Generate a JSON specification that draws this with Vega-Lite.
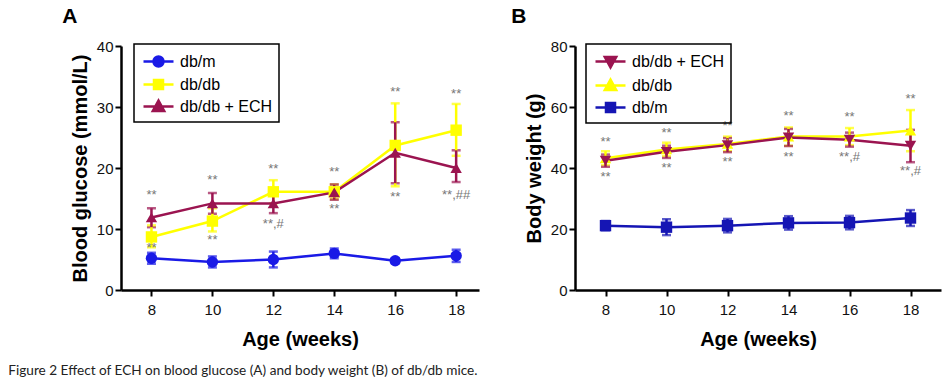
{
  "$schema": "https://vega.github.io/schema/vega-lite/v6.json",
  "background": "white",
  "padding": {"left": 8, "top": 6, "right": 9, "bottom": 4},
  "config": {
    "view": {"stroke": null},
    "axis": {"grid": false, "domainColor": "black", "domainWidth": 2.5, "tickColor": "black", "tickWidth": 2, "tickSize": 6, "labelFont": "Arial", "labelFontSize": 15, "labelColor": "#111", "labelPadding": 2, "titleFont": "Arial", "titleFontSize": 20, "titleFontWeight": "bold", "titleColor": "black"},
    "axisX": {"labelPadding": 6, "titlePadding": 12},
    "axisY": {"titlePadding": 6}
  },
  "title": {"text": "Figure 2 Effect of ECH on blood glucose (A) and body weight (B) of db/db mice.", "orient": "bottom", "anchor": "start", "frame": "bounds", "font": "Lato", "fontSize": 13.6, "fontWeight": "normal", "color": "#222", "dx": -54, "offset": 15},
  "datasets": {
    "glucose": [
      {"week": 8, "group": "db/m", "mean": 5.2, "lo": 4.3, "hi": 6.1},
      {"week": 10, "group": "db/m", "mean": 4.6, "lo": 3.7, "hi": 5.5},
      {"week": 12, "group": "db/m", "mean": 5.0, "lo": 3.7, "hi": 6.3},
      {"week": 14, "group": "db/m", "mean": 6.0, "lo": 5.2, "hi": 6.8},
      {"week": 16, "group": "db/m", "mean": 4.8, "lo": 4.4, "hi": 5.2},
      {"week": 18, "group": "db/m", "mean": 5.6, "lo": 4.6, "hi": 6.6},
      {"week": 8, "group": "db/db", "mean": 8.7, "lo": 7.0, "hi": 10.6},
      {"week": 10, "group": "db/db", "mean": 11.3, "lo": 9.6, "hi": 13.4},
      {"week": 12, "group": "db/db", "mean": 16.1, "lo": 14.2, "hi": 18.0},
      {"week": 14, "group": "db/db", "mean": 16.1, "lo": 14.9, "hi": 17.3},
      {"week": 16, "group": "db/db", "mean": 23.7, "lo": 17.0, "hi": 30.6},
      {"week": 18, "group": "db/db", "mean": 26.2, "lo": 22.0, "hi": 30.5},
      {"week": 8, "group": "db/db + ECH", "mean": 11.9, "lo": 10.3, "hi": 13.4},
      {"week": 10, "group": "db/db + ECH", "mean": 14.2, "lo": 12.5, "hi": 15.9},
      {"week": 12, "group": "db/db + ECH", "mean": 14.2, "lo": 12.6, "hi": 15.8},
      {"week": 14, "group": "db/db + ECH", "mean": 16.0, "lo": 14.8, "hi": 17.3},
      {"week": 16, "group": "db/db + ECH", "mean": 22.5, "lo": 17.5, "hi": 27.5},
      {"week": 18, "group": "db/db + ECH", "mean": 20.0, "lo": 17.7, "hi": 22.9}
    ],
    "glucoseNotes": [
      {"week": 8, "pos": 15.6, "label": "**"},
      {"week": 8, "pos": 6.9, "label": "**"},
      {"week": 10, "pos": 18.0, "label": "**"},
      {"week": 10, "pos": 8.2, "label": "**"},
      {"week": 12, "pos": 19.8, "label": "**"},
      {"week": 12, "pos": 10.8, "label": "**,#"},
      {"week": 14, "pos": 19.3, "label": "**"},
      {"week": 14, "pos": 13.3, "label": "**"},
      {"week": 16, "pos": 32.5, "label": "**"},
      {"week": 16, "pos": 15.2, "label": "**"},
      {"week": 18, "pos": 32.1, "label": "**"},
      {"week": 18, "pos": 15.6, "label": "**,##"}
    ],
    "weight": [
      {"week": 8, "group": "db/m", "mean": 21.1, "lo": 19.6, "hi": 22.6},
      {"week": 10, "group": "db/m", "mean": 20.6, "lo": 18.0, "hi": 23.2},
      {"week": 12, "group": "db/m", "mean": 21.1, "lo": 18.9, "hi": 23.3},
      {"week": 14, "group": "db/m", "mean": 22.0, "lo": 19.8, "hi": 24.2},
      {"week": 16, "group": "db/m", "mean": 22.1, "lo": 19.9, "hi": 24.3},
      {"week": 18, "group": "db/m", "mean": 23.6, "lo": 21.0, "hi": 26.2},
      {"week": 8, "group": "db/db", "mean": 43.2, "lo": 40.9, "hi": 45.5},
      {"week": 10, "group": "db/db", "mean": 46.1, "lo": 43.9, "hi": 48.3},
      {"week": 12, "group": "db/db", "mean": 47.9, "lo": 45.5, "hi": 50.3},
      {"week": 14, "group": "db/db", "mean": 50.3, "lo": 47.3, "hi": 53.3},
      {"week": 16, "group": "db/db", "mean": 50.3, "lo": 47.5, "hi": 53.1},
      {"week": 18, "group": "db/db", "mean": 52.3, "lo": 45.5, "hi": 59.0},
      {"week": 8, "group": "db/db + ECH", "mean": 42.4, "lo": 40.4, "hi": 44.4},
      {"week": 10, "group": "db/db + ECH", "mean": 45.3, "lo": 43.3, "hi": 47.3},
      {"week": 12, "group": "db/db + ECH", "mean": 47.5, "lo": 45.2, "hi": 49.8},
      {"week": 14, "group": "db/db + ECH", "mean": 50.0, "lo": 47.2, "hi": 52.8},
      {"week": 16, "group": "db/db + ECH", "mean": 49.3, "lo": 47.0, "hi": 51.6},
      {"week": 18, "group": "db/db + ECH", "mean": 47.3, "lo": 41.9, "hi": 52.5}
    ],
    "weightNotes": [
      {"week": 8, "pos": 48.6, "label": "**"},
      {"week": 8, "pos": 37.2, "label": "**"},
      {"week": 10, "pos": 51.6, "label": "**"},
      {"week": 10, "pos": 40.1, "label": "**"},
      {"week": 12, "pos": 53.8, "label": "**"},
      {"week": 12, "pos": 41.9, "label": "**"},
      {"week": 14, "pos": 57.1, "label": "**"},
      {"week": 14, "pos": 43.7, "label": "**"},
      {"week": 16, "pos": 56.8, "label": "**"},
      {"week": 16, "pos": 43.7, "label": "**,#"},
      {"week": 18, "pos": 62.5, "label": "**"},
      {"week": 18, "pos": 39.0, "label": "**,#"}
    ]
  },
  "spacing": 32,
  "resolve": {"scale": {"color": "independent", "x": "independent", "y": "independent"}, "legend": {"color": "independent"}},
  "hconcat": [
    {
      "title": {"text": "A", "anchor": "start", "frame": "bounds", "font": "Arial", "fontSize": 21, "fontWeight": "bold", "color": "black", "dx": -8, "offset": 12},
      "width": 358,
      "height": 244,
      "layer": [
        {
          "data": {"name": "glucose"},
          "mark": {"type": "point", "filled": true, "opacity": 0},
          "encoding": {
            "x": {"field": "week", "type": "quantitative", "title": "Age (weeks)", "scale": {"domain": [7, 18.75], "nice": false, "zero": false}, "axis": {"values": [8, 10, 12, 14, 16, 18]}},
            "y": {"field": "mean", "type": "quantitative", "title": "Blood glucose (mmol/L)", "scale": {"domain": [0, 40], "nice": false}, "axis": {"values": [0, 10, 20, 30, 40]}},
            "color": {"field": "group", "type": "nominal", "scale": {"domain": ["db/m", "db/db", "db/db + ECH"], "range": ["#1a1ae6", "#ffff00", "#9b1450"]}, "legend": {
              "title": null, "orient": "none", "legendX": 13, "legendY": -2, "padding": 6, "strokeColor": "black",
              "labelFont": "Arial", "labelFontSize": 16, "labelColor": "black", "labelOffset": 10, "rowPadding": 1, "symbolSize": 400, "symbolOffset": 7,
              "encode": {
                "legend": {"update": {"strokeWidth": {"value": 1.5}}},
                "symbols": {"update": {
                  "shape": {"signal": "datum.value === 'db/m' ? 'M-1.5,0H1.5M0.5,0A0.5,0.5,0,1,1,-0.5,0A0.5,0.5,0,1,1,0.5,0Z' : datum.value === 'db/db' ? 'M-1.5,0H1.5M-0.45,-0.45H0.45V0.45H-0.45Z' : 'M-1.5,0H1.5M0,-0.6L0.57,0.45H-0.57Z'"},
                  "stroke": {"signal": "datum.value === 'db/m' ? '#1a1ae6' : datum.value === 'db/db' ? '#ffff00' : '#9b1450'"},
                  "strokeWidth": {"value": 2.5},
                  "opacity": {"value": 1}
                }}
              }
            }}
          }
        },
        {
          "data": {"name": "glucose"},
          "mark": {"type": "errorbar", "ticks": true, "thickness": 2.5, "size": 9},
          "encoding": {
            "x": {"field": "week", "type": "quantitative", "title": "Age (weeks)"},
            "y": {"field": "lo", "type": "quantitative", "title": "Blood glucose (mmol/L)"},
            "y2": {"field": "hi"},
            "color": {"field": "group", "type": "nominal", "legend": null}
          }
        },
        {
          "data": {"name": "glucose"},
          "mark": {"type": "line", "strokeWidth": 2.5},
          "encoding": {
            "x": {"field": "week", "type": "quantitative", "title": "Age (weeks)"},
            "y": {"field": "mean", "type": "quantitative", "title": "Blood glucose (mmol/L)"},
            "color": {"field": "group", "type": "nominal", "legend": null}
          }
        },
        {
          "data": {"name": "glucose"},
          "mark": {"type": "point", "filled": true, "opacity": 1, "size": 130, "shape": {"expr": "datum.group === 'db/m' ? 'circle' : datum.group === 'db/db' ? 'square' : 'triangle-up'"}},
          "encoding": {
            "x": {"field": "week", "type": "quantitative", "title": "Age (weeks)"},
            "y": {"field": "mean", "type": "quantitative", "title": "Blood glucose (mmol/L)"},
            "color": {"field": "group", "type": "nominal", "legend": null}
          }
        },
        {
          "data": {"name": "glucoseNotes"},
          "mark": {"type": "text", "font": "Arial", "fontSize": 13, "color": "#777", "baseline": "middle"},
          "encoding": {
            "x": {"field": "week", "type": "quantitative", "title": "Age (weeks)"},
            "y": {"field": "pos", "type": "quantitative", "title": "Blood glucose (mmol/L)"},
            "text": {"field": "label"}
          }
        }
      ]
    },
    {
      "title": {"text": "B", "anchor": "start", "frame": "bounds", "font": "Arial", "fontSize": 21, "fontWeight": "bold", "color": "black", "dx": -13, "offset": 12},
      "width": 366,
      "height": 244,
      "layer": [
        {
          "data": {"name": "weight"},
          "mark": {"type": "point", "filled": true, "opacity": 0},
          "encoding": {
            "x": {"field": "week", "type": "quantitative", "title": "Age (weeks)", "scale": {"domain": [7, 19], "nice": false, "zero": false}, "axis": {"values": [8, 10, 12, 14, 16, 18]}},
            "y": {"field": "mean", "type": "quantitative", "title": "Body weight (g)", "scale": {"domain": [0, 80], "nice": false}, "axis": {"values": [0, 20, 40, 60, 80]}},
            "color": {"field": "group", "type": "nominal", "scale": {"domain": ["db/db + ECH", "db/db", "db/m"], "range": ["#9b1450", "#ffff00", "#1515b4"]}, "legend": {
              "title": null, "orient": "none", "legendX": 11, "legendY": -2, "padding": 6, "strokeColor": "black",
              "labelFont": "Arial", "labelFontSize": 16, "labelColor": "black", "labelOffset": 10, "rowPadding": 1, "symbolSize": 400, "symbolOffset": 7,
              "encode": {
                "legend": {"update": {"strokeWidth": {"value": 1.5}}},
                "symbols": {"update": {
                  "shape": {"signal": "datum.value === 'db/m' ? 'M-1.5,0H1.5M-0.45,-0.45H0.45V0.45H-0.45Z' : datum.value === 'db/db' ? 'M-1.5,0H1.5M0,-0.6L0.57,0.45H-0.57Z' : 'M-1.5,0H1.5M0,0.6L0.57,-0.45H-0.57Z'"},
                  "stroke": {"signal": "datum.value === 'db/m' ? '#1515b4' : datum.value === 'db/db' ? '#ffff00' : '#9b1450'"},
                  "strokeWidth": {"value": 2.5},
                  "opacity": {"value": 1}
                }}
              }
            }}
          }
        },
        {
          "data": {"name": "weight"},
          "mark": {"type": "errorbar", "ticks": true, "thickness": 2.5, "size": 9},
          "encoding": {
            "x": {"field": "week", "type": "quantitative", "title": "Age (weeks)"},
            "y": {"field": "lo", "type": "quantitative", "title": "Body weight (g)"},
            "y2": {"field": "hi"},
            "color": {"field": "group", "type": "nominal", "legend": null}
          }
        },
        {
          "data": {"name": "weight"},
          "mark": {"type": "line", "strokeWidth": 2.5},
          "encoding": {
            "x": {"field": "week", "type": "quantitative", "title": "Age (weeks)"},
            "y": {"field": "mean", "type": "quantitative", "title": "Body weight (g)"},
            "color": {"field": "group", "type": "nominal", "legend": null}
          }
        },
        {
          "data": {"name": "weight"},
          "mark": {"type": "point", "filled": true, "opacity": 1, "size": 130, "shape": {"expr": "datum.group === 'db/m' ? 'square' : datum.group === 'db/db' ? 'triangle-up' : 'triangle-down'"}},
          "encoding": {
            "x": {"field": "week", "type": "quantitative", "title": "Age (weeks)"},
            "y": {"field": "mean", "type": "quantitative", "title": "Body weight (g)"},
            "color": {"field": "group", "type": "nominal", "legend": null}
          }
        },
        {
          "data": {"name": "weightNotes"},
          "mark": {"type": "text", "font": "Arial", "fontSize": 13, "color": "#777", "baseline": "middle"},
          "encoding": {
            "x": {"field": "week", "type": "quantitative", "title": "Age (weeks)"},
            "y": {"field": "pos", "type": "quantitative", "title": "Body weight (g)"},
            "text": {"field": "label"}
          }
        }
      ]
    }
  ]
}
